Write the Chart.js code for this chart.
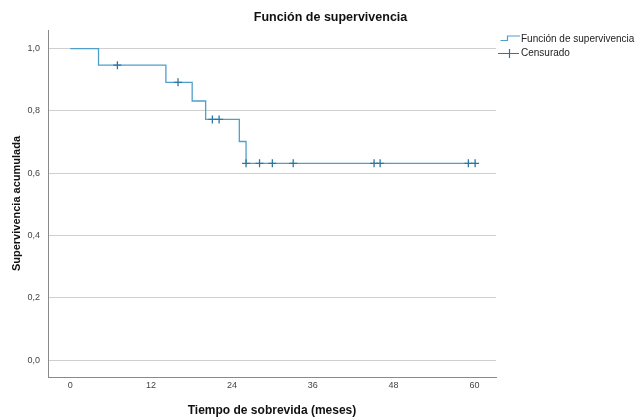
<!DOCTYPE html>
<html lang="es">
<head>
<meta charset="UTF-8">
<title>Función de supervivencia</title>
<script src="https://cdn.jsdelivr.net/npm/chart.js"></script>
<style>
  html, body { margin: 0; padding: 0; background: #fff; }
  #wrap { width: 635px; height: 418px; }
</style>
</head>
<body>
<div id="wrap"><canvas id="kmChart" width="635" height="418"></canvas></div>
<script>
// Kaplan-Meier steps (meses / supervivencia acumulada)
const stepTimes = [0, 4.2, 14.2, 18.1, 20.1, 25.1, 26.1, 60.3];
const stepSurv  = [1.0, 0.947, 0.892, 0.832, 0.773, 0.702, 0.632, 0.632];
// censored cases (meses)
const censorTimes = [7, 16, 21.1, 22.1, 26.1, 28.1, 30, 33.1, 45.1, 46, 59.1, 60.1];
const xTicks = [0, 12, 24, 36, 48, 60];
const yTicks = [0, 0.2, 0.4, 0.6, 0.8, 1.0];

const lineColor = '#4f9fcb';
const markColor = '#2c779f';

// survival value of the step curve at time t
function survAt(t) {
  let s = stepSurv[0];
  for (let i = 0; i < stepTimes.length; i++) {
    if (stepTimes[i] <= t) s = stepSurv[i];
  }
  return s;
}

// small legend glyphs like the SPSS ones
function stepIcon() {
  const c = document.createElement('canvas');
  c.width = 28; c.height = 14;
  const g = c.getContext('2d');
  g.strokeStyle = lineColor;
  g.lineWidth = 1.2;
  g.beginPath();
  g.moveTo(6.5, 8.5); g.lineTo(13.5, 8.5); g.lineTo(13.5, 4); g.lineTo(26, 4);
  g.stroke();
  return c;
}
function crossIcon() {
  const c = document.createElement('canvas');
  c.width = 28; c.height = 14;
  const g = c.getContext('2d');
  g.strokeStyle = markColor;
  g.lineWidth = 1.2;
  g.beginPath();
  g.moveTo(4, 7.5); g.lineTo(25, 7.5);
  g.moveTo(15.5, 3); g.lineTo(15.5, 12);
  g.stroke();
  return c;
}

// SPSS puts the title a bit right of the page centre
const titleShift = {
  id: 'titleShift',
  afterLayout(chart) {
    if (chart.titleBlock) chart.titleBlock.left = 26;
  }
};

const ctx = document.getElementById('kmChart').getContext('2d');
const font = "Arial, 'Liberation Sans', sans-serif";

const chart = new Chart(ctx, {
  type: 'line',
  data: {
    datasets: [{
      label: 'Función de supervivencia',
      data: stepTimes.map((t, i) => ({ x: t, y: stepSurv[i] })),
      borderColor: lineColor,
      borderWidth: 1.3,
      stepped: true,
      pointRadius: 0,
      fill: false,
      order: 2
    }, {
      label: 'Censurado',
      data: censorTimes.map(t => ({ x: t, y: survAt(t) })),
      showLine: false,
      pointStyle: 'cross',
      pointRadius: 4,
      pointBorderWidth: 1.3,
      borderColor: markColor,
      backgroundColor: markColor,
      order: 1
    }]
  },
  options: {
    responsive: false,
    animation: false,
    layout: { padding: 0 },
    plugins: {
      title: {
        display: true,
        text: 'Función de supervivencia',
        color: '#111',
        font: { family: font, size: 12.5, weight: 'bold' },
        padding: { top: 10, bottom: 5 }
      },
      legend: {
        position: 'right',
        align: 'start',
        fullSize: false,
        maxWidth: 139,
        labels: {
          color: '#222',
          font: { family: font, size: 10 },
          usePointStyle: true,
          pointStyleWidth: 16,
          boxHeight: 10,
          padding: 4,
          generateLabels: () => [
            { text: 'Función de supervivencia', pointStyle: stepIcon(), fontColor: '#222', lineWidth: 0, hidden: false, datasetIndex: 0 },
            { text: 'Censurado', pointStyle: crossIcon(), fontColor: '#222', lineWidth: 0, hidden: false, datasetIndex: 1 }
          ]
        }
      },
      tooltip: { enabled: false }
    },
    scales: {
      x: {
        type: 'linear',
        min: -3.3,
        max: 63.2,
        afterBuildTicks: s => { s.ticks = xTicks.map(v => ({ value: v })); },
        afterFit: s => { s.height = 41; },
        grid: { display: false, drawTicks: false },
        border: { display: true, color: '#8a8a8a', width: 1 },
        ticks: {
          padding: 3,
          color: '#444',
          font: { family: font, size: 9 }
        },
        title: {
          display: true,
          text: 'Tiempo de sobrevida (meses)',
          color: '#111',
          font: { family: font, size: 12, weight: 'bold' },
          padding: { top: 0, bottom: 0 }
        }
      },
      y: {
        min: -0.054,
        max: 1.06,
        afterBuildTicks: s => { s.ticks = yTicks.map(v => ({ value: v })); },
        afterFit: s => { s.width = 48; },
        grid: { color: '#cfcfcf', lineWidth: 1, drawTicks: false },
        border: { display: true, color: '#8a8a8a', width: 1 },
        ticks: {
          padding: 8,
          color: '#444',
          font: { family: font, size: 9 },
          callback: v => v.toFixed(1).replace('.', ',')
        },
        title: {
          display: true,
          text: 'Supervivencia acumulada',
          color: '#111',
          font: { family: font, size: 11, weight: 'bold' },
          padding: { top: 10, bottom: 0 }
        }
      }
    }
  },
  plugins: [titleShift]
});
</script>
</body>
</html>
